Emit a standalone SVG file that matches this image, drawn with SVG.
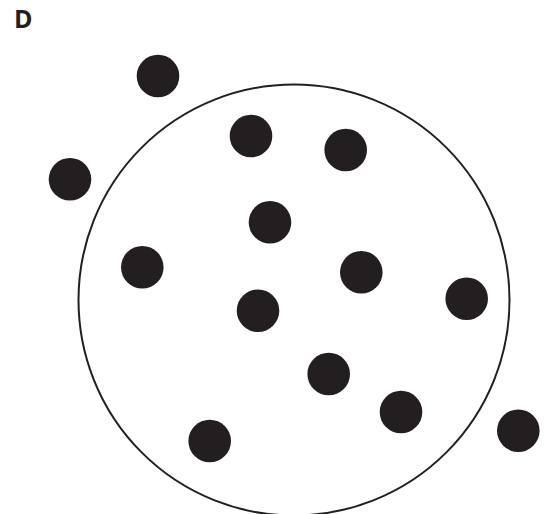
<svg xmlns="http://www.w3.org/2000/svg" width="545" height="514" viewBox="0 0 545 514">
<style>
.dot{fill:#231f20}
.ring{fill:none;stroke:#231f20;stroke-width:2}
.lbl{font-family:"Open Sans","Liberation Sans",sans-serif;font-weight:bold;font-size:25px;fill:#231f20}
</style>
<rect width="545" height="514" fill="#ffffff"/>
<g id="label"><text class="lbl" x="14" y="27.5">D</text></g>
<g id="boundary"><circle class="ring" cx="294" cy="300" r="215.5"/></g>
<g id="particles">
<circle id="p1" class="dot" cx="158" cy="76" r="21.3"/>
<circle id="p2" class="dot" cx="251" cy="136" r="21.3"/>
<circle id="p3" class="dot" cx="345.7" cy="150" r="21.3"/>
<circle id="p4" class="dot" cx="70" cy="179.3" r="21.3"/>
<circle id="p5" class="dot" cx="270" cy="222.3" r="21.3"/>
<circle id="p6" class="dot" cx="142.3" cy="267.3" r="21.3"/>
<circle id="p7" class="dot" cx="361.3" cy="272.3" r="21.3"/>
<circle id="p8" class="dot" cx="466.7" cy="298.7" r="21.3"/>
<circle id="p9" class="dot" cx="258" cy="310.7" r="21.3"/>
<circle id="p10" class="dot" cx="328.7" cy="374" r="21.3"/>
<circle id="p11" class="dot" cx="401" cy="412" r="21.3"/>
<circle id="p12" class="dot" cx="209.7" cy="441" r="21.3"/>
<circle id="p13" class="dot" cx="518.3" cy="430.7" r="21.3"/>
</g>
</svg>
